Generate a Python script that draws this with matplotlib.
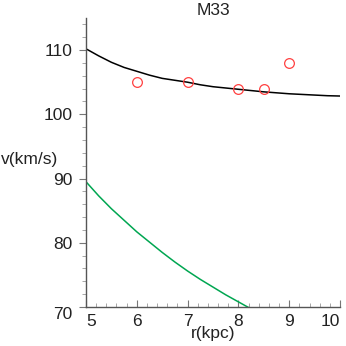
import matplotlib
matplotlib.use("Agg")
import matplotlib.pyplot as plt
from matplotlib.ticker import MultipleLocator

plt.rcParams['font.family'] = ['Liberation Sans', 'DejaVu Sans']

# observed rotation speeds
r_obs = [6, 7, 8, 8.5, 9]
v_obs = [105, 105, 104, 104, 108]

# model curve (black)
r_fit = [5.0, 5.25, 5.5, 5.75, 6.0, 6.25, 6.5, 6.75, 7.0, 7.25, 7.5,
         7.75, 8.0, 8.25, 8.5, 8.75, 9.0, 9.25, 9.5, 9.75, 10.0]
v_fit = [110.2, 109.1, 108.1, 107.3, 106.7, 106.1, 105.6, 105.3, 105.0, 104.6, 104.3,
         104.1, 103.9, 103.7, 103.5, 103.35, 103.2, 103.1, 103.0, 102.9, 102.85]

# keplerian curve (green)
r_kep = [5.0, 5.25, 5.5, 5.75, 6.0, 6.25, 6.5, 6.75, 7.0, 7.25, 7.5, 7.75, 8.0, 8.25]
v_kep = [89.5, 87.3, 85.3, 83.5, 81.7, 80.1, 78.5, 77.0, 75.6, 74.3, 73.1, 71.9, 70.8, 69.7]

fig = plt.figure(figsize=(3.46, 3.46), dpi=100)
ax = fig.add_axes([0.2486, 0.1127, 0.7341, 0.8353])

ax.plot(r_fit, v_fit, color='black', lw=1.1)
ax.plot(r_kep, v_kep, color='#00a651', lw=1.1)
ax.plot(r_obs, v_obs, 'o', mfc='none', mec='#ff4040', ms=7, mew=0.9)

ax.set_xlim(5, 10)
ax.set_ylim(70, 115)
ax.xaxis.set_major_locator(MultipleLocator(1))
ax.xaxis.set_minor_locator(MultipleLocator(0.2))
ax.yaxis.set_major_locator(MultipleLocator(10))
ax.yaxis.set_minor_locator(MultipleLocator(2))

for s in ['top', 'right']:
    ax.spines[s].set_visible(False)
for s in ['left', 'bottom']:
    ax.spines[s].set_color('#555555')
    ax.spines[s].set_linewidth(1.0)

ax.tick_params(axis='x', which='major', direction='in', length=5, width=0.8, color='#777777',
               labelsize=12.5, pad=5, labelcolor='#222222')
ax.tick_params(axis='x', which='minor', direction='in', length=3, width=0.6, color='#999999')
ax.tick_params(axis='y', which='major', direction='out', length=5, width=0.8, color='#777777',
               labelsize=12.5, pad=5, labelcolor='#222222')
ax.tick_params(axis='y', which='minor', direction='out', length=3, width=0.6, color='#999999')

fig.canvas.draw()
for lab in ax.get_xticklabels():
    if lab.get_text() == '5':
        lab.set_horizontalalignment('left')
    elif lab.get_text() == '10':
        lab.set_horizontalalignment('right')
for lab in ax.get_yticklabels():
    if lab.get_text() == '70':
        lab.set_verticalalignment('top')

ax.set_title('M33', fontsize=12.5, pad=2, color='#222222')
ax.set_xlabel('r(kpc)', fontsize=12.5, labelpad=-2, color='#222222')
ax.set_ylabel('v(km/s)', fontsize=12.5, rotation=0, color='#222222')
ax.yaxis.set_label_coords(0.003, 0.538, transform=fig.transFigure)
ax.yaxis.label.set_horizontalalignment('left')
ax.yaxis.label.set_verticalalignment('center')

fig.savefig('out.png', dpi=100)
